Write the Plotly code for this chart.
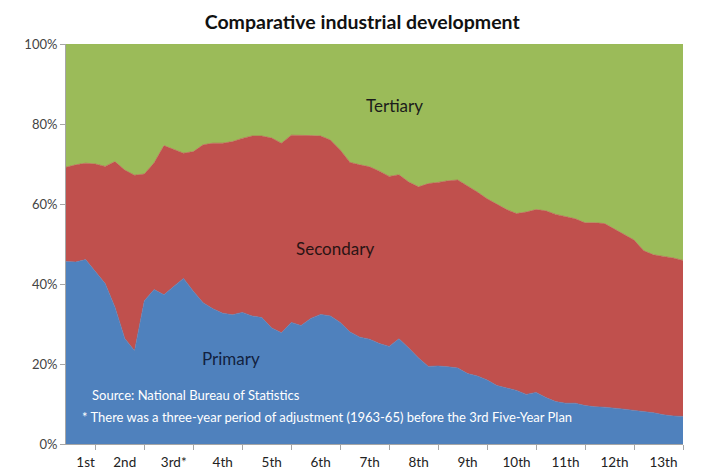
"""Comparative industrial development - stacked share of GDP by sector (Plotly)"""

import plotly.graph_objects as go

# years shown (the 1963-65 adjustment period is left out of the series)
years = list(range(1953, 1963)) + list(range(1966, 2020))

# share of GDP, %
primary = [
    45.6, 45.5, 46.1, 43.0, 40.1, 34.2, 26.4, 23.3, 35.8, 38.6,
    37.3, 39.4, 41.4, 38.2, 35.3, 33.8, 32.7, 32.3, 32.9, 32.0,
    31.6, 29.0, 27.8, 30.4, 29.6, 31.4, 32.4, 32.0, 30.4, 28.0,
    26.7, 26.2, 25.1, 24.4, 26.3, 24.0, 21.5, 19.4, 19.5, 19.3,
    19.0, 17.6, 17.0, 16.0, 14.6, 14.0, 13.4, 12.4, 12.9, 11.6,
    10.6, 10.2, 10.2, 9.6, 9.3, 9.2, 9.0, 8.7, 8.4, 8.1,
    7.8, 7.3, 7.0, 6.9,
]
secondary = [
    23.6, 24.3, 24.1, 27.0, 29.3, 36.4, 42.1, 43.9, 31.7, 31.7,
    37.3, 34.2, 31.3, 34.9, 39.5, 41.4, 42.5, 43.3, 43.5, 45.0,
    45.4, 47.5, 47.4, 46.8, 47.6, 45.7, 44.6, 44.0, 43.1, 42.4,
    43.1, 43.1, 43.1, 42.5, 41.0, 41.5, 42.8, 45.7, 45.9, 46.5,
    47.0, 47.0, 46.0, 45.3, 45.4, 44.6, 44.2, 45.6, 45.7, 46.7,
    46.8, 46.6, 46.1, 45.7, 46.0, 45.9, 44.8, 43.8, 42.6, 40.2,
    39.5, 39.6, 39.5, 39.0,
]
tertiary = [
    30.8, 30.2, 29.8, 30.0, 30.6, 29.4, 31.5, 32.8, 32.5, 29.7,
    25.4, 26.4, 27.3, 26.9, 25.2, 24.8, 24.8, 24.4, 23.6, 23.0,
    23.0, 23.5, 24.8, 22.8, 22.8, 22.9, 23.0, 24.0, 26.5, 29.6,
    30.2, 30.7, 31.8, 33.1, 32.7, 34.5, 35.7, 34.9, 34.6, 34.2,
    34.0, 35.4, 37.0, 38.7, 40.0, 41.4, 42.4, 42.0, 41.4, 41.7,
    42.6, 43.2, 43.7, 44.7, 44.7, 44.9, 46.2, 47.5, 49.0, 51.7,
    52.7, 53.1, 53.5, 54.1,
]

# Five-Year Plan labels and the year each label sits on
plan_labels = ["1st", "2nd", "3rd*", "4th", "5th", "6th", "7th",
               "8th", "9th", "10th", "11th", "12th", "13th"]
plan_label_years = [1955, 1959, 1967, 1972, 1977, 1982, 1987,
                    1992, 1997, 2002, 2007, 2012, 2017]
tick_years = [1956, 1961, 1969, 1974, 1979, 1984, 1989,
              1994, 1999, 2004, 2009, 2014, 2019]

FONT = "Lato"
x = list(range(len(years)))

fig = go.Figure()
series = [
    ("Primary", primary, "#4F81BD"),
    ("Secondary", secondary, "#C0504D"),
    ("Tertiary", tertiary, "#9BBB59"),
]
for name, vals, color in series:
    fig.add_trace(go.Scatter(
        x=x, y=vals, name=name,
        mode="lines",
        stackgroup="one",
        line=dict(width=0.6, color=color),
        fillcolor=color,
        customdata=years,
        hovertemplate="%{customdata}: %{y:.1f}%<extra>" + name + "</extra>",
    ))

# region labels and notes
notes = [
    dict(x=33.5, y=84.7, text="Tertiary", color="#1b1b1b"),
    dict(x=27.5, y=49, text="Secondary", color="#2a1414"),
    dict(x=16.8, y=21.5, text="Primary", color="#12213f"),
]
for n in notes:
    fig.add_annotation(x=n["x"], y=n["y"], text=n["text"], showarrow=False,
                       font=dict(family=FONT, size=17, color=n["color"]))

fig.add_annotation(x=2.45, y=12.2, xanchor="left", text="Source: National Bureau of Statistics",
                   showarrow=False, font=dict(family=FONT, size=13, color="white"))
fig.add_annotation(x=1.4, y=6.7, xanchor="left",
                   text="* There was a three-year period of adjustment (1963-65) before the 3rd Five-Year Plan",
                   showarrow=False, font=dict(family=FONT, size=13, color="white"))

# the page body adds an 8px margin, so the figure is sized 700x461
fig.update_layout(
    title=dict(text="<b>Comparative industrial development</b>", x=0.506, xanchor="center",
               y=0.97, yanchor="middle", font=dict(family=FONT, size=19.5, color="#111111")),
    width=700, height=461,
    margin=dict(l=58, r=25, t=36, b=25),
    paper_bgcolor="white", plot_bgcolor="white",
    showlegend=False,
    font=dict(family=FONT, size=12, color="#333333"),
    xaxis=dict(
        range=[0, len(years) - 1],
        automargin=False,
        tickmode="array",
        tickvals=[years.index(y) for y in plan_label_years],
        ticktext=plan_labels,
        ticks="",
        ticklabelstandoff=6,
        showgrid=False, zeroline=False,
        showline=True, linecolor="#a6a6a6", linewidth=1,
        tickfont=dict(family=FONT, size=13.5, color="#222222"),
        minor=dict(tickmode="array", tickvals=[years.index(y) for y in tick_years],
                   ticks="outside", ticklen=5, tickcolor="#a6a6a6", showgrid=False),
    ),
    yaxis=dict(
        range=[0, 100],
        automargin=False,
        tickmode="array",
        tickvals=[0, 20, 40, 60, 80, 100],
        ticktext=["0%", "20%", "40%", "60%", "80%", "100%"],
        ticks="outside", ticklen=5, tickcolor="#a6a6a6",
        showgrid=False, zeroline=False,
        showline=True, linecolor="#a6a6a6", linewidth=1,
        tickfont=dict(family=FONT, size=13, color="#444444"),
    ),
)

fig.write_html("out.html")
